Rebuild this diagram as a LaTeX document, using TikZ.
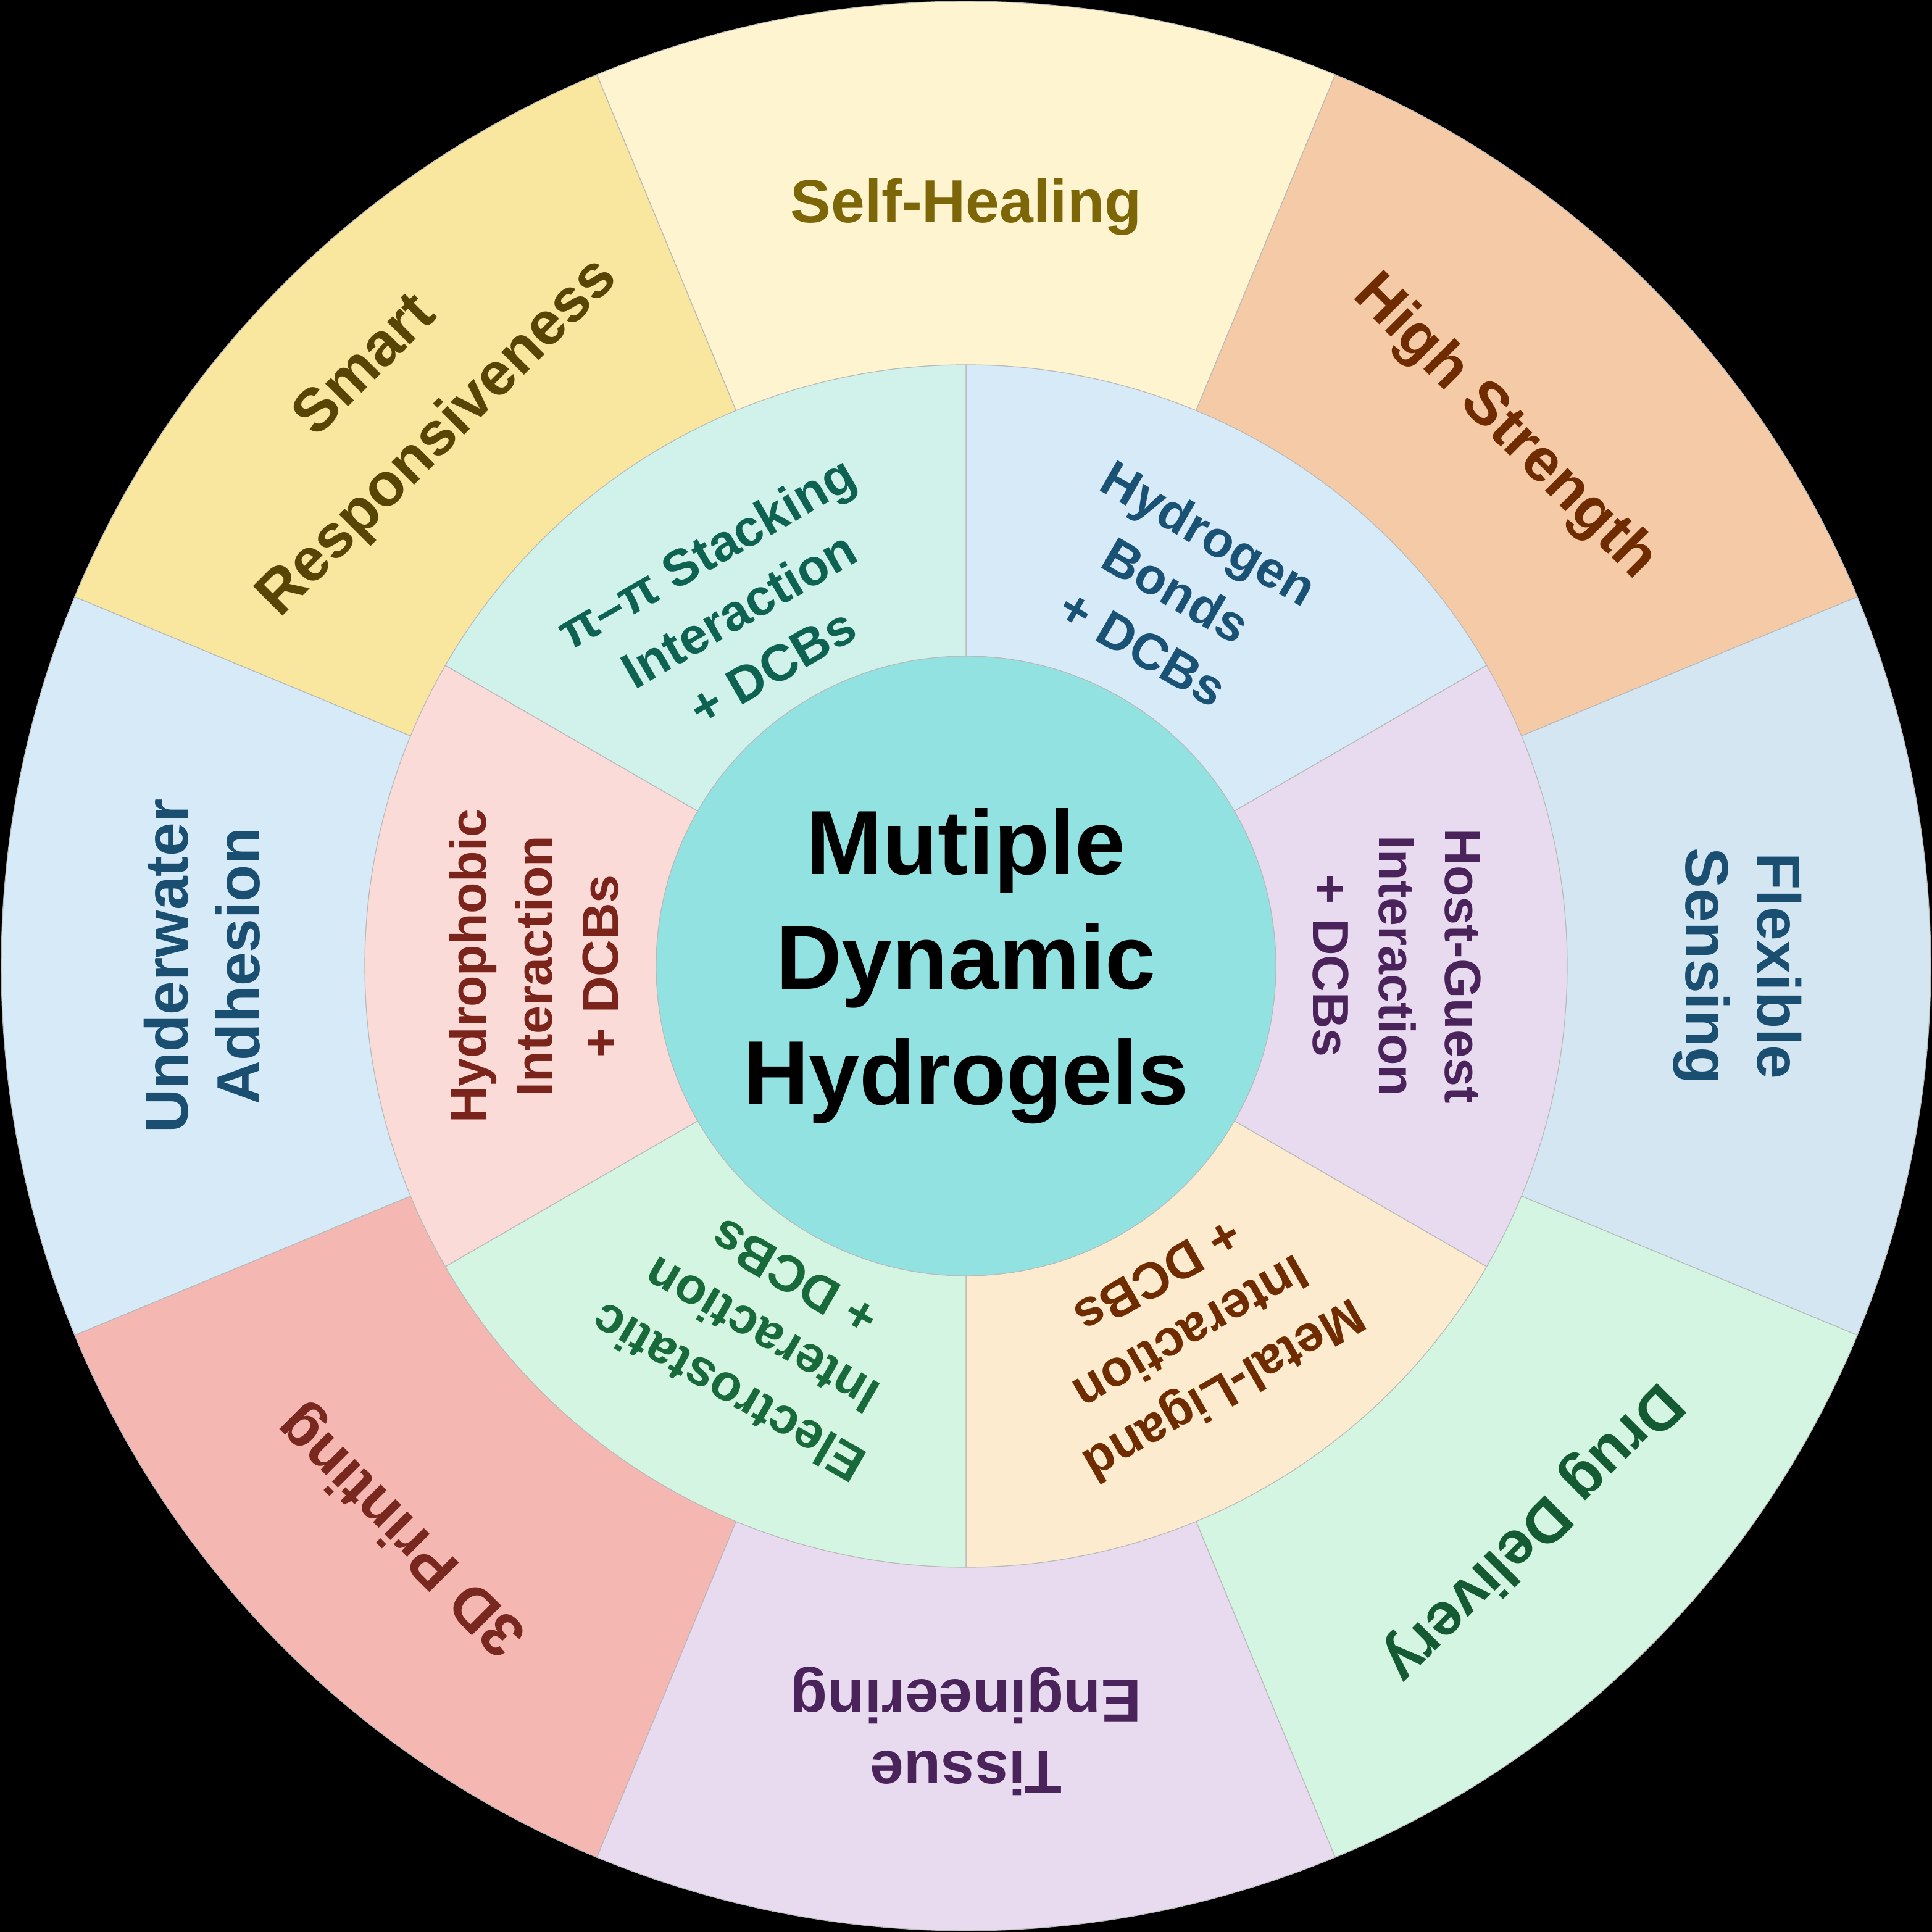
\documentclass[tikz,border=0pt]{standalone}
\usepackage{fontspec}
\setmainfont{Liberation Sans}
\definecolor{shF}{HTML}{FEF5D0}\definecolor{shT}{HTML}{7D6608}
\definecolor{hsF}{HTML}{F5CBA7}\definecolor{hsT}{HTML}{6E2C00}
\definecolor{fsF}{HTML}{D4E6F1}\definecolor{fsT}{HTML}{1B4F72}
\definecolor{ddF}{HTML}{D5F5E3}\definecolor{ddT}{HTML}{145A32}
\definecolor{teF}{HTML}{E8DAEF}\definecolor{teT}{HTML}{4A235A}
\definecolor{tdF}{HTML}{F5B7B1}\definecolor{tdT}{HTML}{78281F}
\definecolor{uaF}{HTML}{D6EAF8}\definecolor{uaT}{HTML}{1B4F72}
\definecolor{srF}{HTML}{F9E79F}\definecolor{srT}{HTML}{574506}
\definecolor{hbF}{HTML}{D6EAF8}\definecolor{hbT}{HTML}{1A5276}
\definecolor{hgF}{HTML}{E8DAEF}\definecolor{hgT}{HTML}{4A235A}
\definecolor{mlF}{HTML}{FDEBD0}\definecolor{mlT}{HTML}{6E2C00}
\definecolor{esF}{HTML}{D5F5E3}\definecolor{esT}{HTML}{186A3B}
\definecolor{hpF}{HTML}{FADBD8}\definecolor{hpT}{HTML}{7B241C}
\definecolor{ppF}{HTML}{D1F2EB}\definecolor{ppT}{HTML}{0E6251}
\definecolor{ctF}{HTML}{92E2E2}
\newcommand\mysector[4]{\filldraw[seg,fill=#1] (0,0) -- (#2:#4) arc[start angle=#2,end angle=#3,radius=#4] -- cycle;}
\begin{document}
\begin{tikzpicture}[
  seg/.style={draw=gray!55, line width=0.35pt},
  outlbl/.style={font=\bfseries\fontsize{28}{33}\selectfont, align=center},
  inlbl/.style={font=\bfseries\fontsize{23.5}{30.5}\selectfont, align=center},
  ctlbl/.style={font=\bfseries\fontsize{42}{53}\selectfont, align=center, text=black}
]
\fill[black] (-15.65,-15.65) rectangle (15.65,15.65);
\useasboundingbox (-15.65,-15.65) rectangle (15.65,15.65);
% outer ring
\mysector{shF}{67.5}{112.5}{15.63}
\mysector{hsF}{22.5}{67.5}{15.63}
\mysector{fsF}{-22.5}{22.5}{15.63}
\mysector{ddF}{-67.5}{-22.5}{15.63}
\mysector{teF}{-112.5}{-67.5}{15.63}
\mysector{tdF}{-157.5}{-112.5}{15.63}
\mysector{uaF}{157.5}{202.5}{15.63}
\mysector{srF}{112.5}{157.5}{15.63}
% middle ring
\mysector{hbF}{30}{90}{9.74}
\mysector{hgF}{-30}{30}{9.74}
\mysector{mlF}{-90}{-30}{9.74}
\mysector{esF}{-150}{-90}{9.74}
\mysector{hpF}{150}{210}{9.74}
\mysector{ppF}{90}{150}{9.74}
% center
\filldraw[seg,fill=ctF] (0,0) circle (5.02);
% outer labels
\node[outlbl, text=shT] (sh) at (90:12.3) {Self-Healing};
\node[outlbl, text=hsT, rotate=-45] (hs) at (45:12.33) {High Strength};
\node[outlbl, text=fsT, rotate=-90] (fs) at (0:12.5) {Flexible\\Sensing};
\node[outlbl, text=ddT, rotate=-135] (dd) at (-45:12.95) {Drug Delivery};
\node[outlbl, text=teT, rotate=180] (te) at (-90:12.4) {Tissue\\Engineering};
\node[outlbl, text=tdT, rotate=135] (td) at (-135:12.9) {3D Printing};
\node[outlbl, text=uaT, rotate=90] (ua) at (180:12.38) {Underwater\\Adhesion};
\node[outlbl, text=srT, rotate=45, font=\bfseries\fontsize{28}{47}\selectfont] (sr) at (135:12.9) {Smart\\Responsiveness};
% inner labels
\node[inlbl, text=hbT, rotate=-30] (hb) at (60.8:6.98) {Hydrogen\\Bonds\\+ DCBs};
\node[inlbl, text=hgT, rotate=-90] (hg) at (0:6.98) {Host-Guest\\Interaction\\+ DCBs};
\node[inlbl, text=mlT, rotate=-150] (ml) at (-58.5:7.0) {Metal-Ligand\\Interaction\\+ DCBs};
\node[inlbl, text=esT, rotate=150] (es) at (-119:6.85) {Electrostatic\\Interaction\\+ DCBs};
\node[inlbl, text=hpT, rotate=90] (hp) at (180:7.0) {Hydrophobic\\Interaction\\+ DCBs};
\node[inlbl, text=ppT, rotate=30] (pp) at (122.5:6.85) {π–π Stacking\\Interaction\\+ DCBs};
% center label
\node[ctlbl] (ct) at (0,0) {Mutiple\\Dynamic\\Hydrogels};
\end{tikzpicture}
\end{document}
